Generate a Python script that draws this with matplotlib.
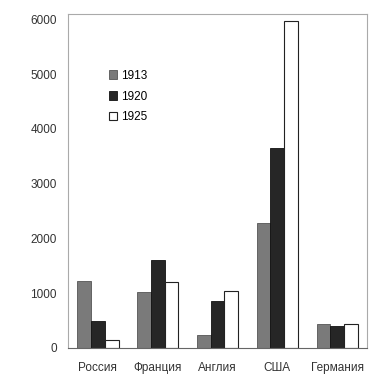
import matplotlib.pyplot as plt
import numpy as np

# countries and output by year
countries = ['Россия', 'Франция', 'Англия', 'США', 'Германия']
years = ['1913', '1920', '1925']
values_1913 = [1230, 1030, 240, 2290, 430]
values_1920 = [500, 1610, 860, 3660, 400]
values_1925 = [150, 1200, 1040, 5980, 440]

plt.rcParams['font.family'] = ['Liberation Sans', 'DejaVu Sans']

fig = plt.figure(figsize=(3.82, 3.9), dpi=100)
ax = fig.add_axes([0.178, 0.108, 0.783, 0.856])

x = np.arange(len(countries))
w = 0.23
ax.bar(x - w, values_1913, w, color='#7a7a7a', edgecolor='#555555', linewidth=0.6, label=years[0])
ax.bar(x, values_1920, w, color='#262626', edgecolor='#111111', linewidth=0.6, label=years[1])
ax.bar(x + w, values_1925, w, color='white', edgecolor='#222222', linewidth=0.8, label=years[2])

ax.set_xlim(-0.5, 4.5)
ax.set_ylim(0, 6100)
ax.set_yticks([0, 1000, 2000, 3000, 4000, 5000, 6000])
ax.set_xticks(x)
ax.set_xticklabels(countries)
ax.tick_params(axis='both', length=0, labelsize=8.5, colors='#333333', pad=10)
ax.tick_params(axis='y', pad=8)

for sp in ax.spines.values():
    sp.set_color('#aaaaaa')
    sp.set_linewidth(0.8)
ax.spines['bottom'].set_color('#666666')

ax.legend(loc='upper left', bbox_to_anchor=(0.1, 0.865), frameon=False, fontsize=8.5,
          handlelength=0.7, handleheight=0.7, handletextpad=0.4, labelspacing=0.75)

plt.savefig('out.png', dpi=100)
